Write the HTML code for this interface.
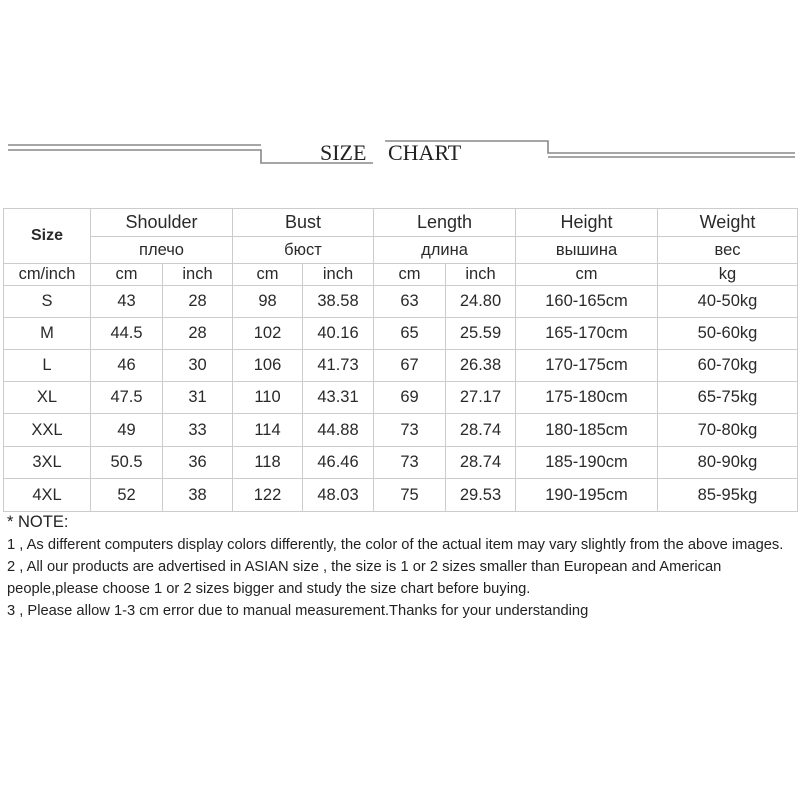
<!DOCTYPE html>
<html><head><meta charset="utf-8"><style>
body{margin:0;width:800px;height:800px;background:#fff;position:relative;overflow:hidden;font-family:"Liberation Sans","DejaVu Sans",sans-serif;color:#222}
.t{position:absolute;font-family:"Liberation Serif",serif;font-size:22px;color:#222;top:140px}
table{position:absolute;left:3px;top:208px;border-collapse:collapse;table-layout:fixed}
td{border:1px solid #ccc;text-align:center;font-size:16.5px;padding:0;white-space:nowrap;color:#2a2a2a}
.n{position:absolute;left:7px;font-size:14.7px;color:#222;white-space:nowrap}
</style></head><body>
<svg width="800" height="200" style="position:absolute;left:0;top:0" fill="none" stroke="#888" stroke-width="1.6">
<path d="M8 145H261M8 150H261V163H373"/>
<path d="M385 141H548V153H795M548 157H795"/>
</svg>
<div class="t" style="left:320px">SIZE</div>
<div class="t" style="left:388px">CHART</div>
<table>
<colgroup><col style="width:87px"><col style="width:72px"><col style="width:70px"><col style="width:70px"><col style="width:71px"><col style="width:72px"><col style="width:70px"><col style="width:142px"><col style="width:140px"></colgroup>
<tr style="height:28px"><td rowspan="2" style="font-weight:bold;font-size:16px">Size</td><td colspan="2" style="font-size:18px">Shoulder</td><td colspan="2" style="font-size:18px">Bust</td><td colspan="2" style="font-size:18px">Length</td><td style="font-size:18px">Height</td><td style="font-size:18px">Weight</td></tr>
<tr style="height:27px"><td colspan="2">плечо</td><td colspan="2">бюст</td><td colspan="2">длина</td><td>вышина</td><td>вес</td></tr>
<tr style="height:22px"><td>cm/inch</td><td>cm</td><td>inch</td><td>cm</td><td>inch</td><td>cm</td><td>inch</td><td>cm</td><td>kg</td></tr>
<tr style="height:32px"><td>S</td><td>43</td><td>28</td><td>98</td><td>38.58</td><td>63</td><td>24.80</td><td>160-165cm</td><td>40-50kg</td></tr>
<tr style="height:32px"><td>M</td><td>44.5</td><td>28</td><td>102</td><td>40.16</td><td>65</td><td>25.59</td><td>165-170cm</td><td>50-60kg</td></tr>
<tr style="height:32px"><td>L</td><td>46</td><td>30</td><td>106</td><td>41.73</td><td>67</td><td>26.38</td><td>170-175cm</td><td>60-70kg</td></tr>
<tr style="height:32px"><td>XL</td><td>47.5</td><td>31</td><td>110</td><td>43.31</td><td>69</td><td>27.17</td><td>175-180cm</td><td>65-75kg</td></tr>
<tr style="height:33px"><td>XXL</td><td>49</td><td>33</td><td>114</td><td>44.88</td><td>73</td><td>28.74</td><td>180-185cm</td><td>70-80kg</td></tr>
<tr style="height:32px"><td>3XL</td><td>50.5</td><td>36</td><td>118</td><td>46.46</td><td>73</td><td>28.74</td><td>185-190cm</td><td>80-90kg</td></tr>
<tr style="height:33px"><td>4XL</td><td>52</td><td>38</td><td>122</td><td>48.03</td><td>75</td><td>29.53</td><td>190-195cm</td><td>85-95kg</td></tr>
</table>
<div class="n" style="top:513px;font-size:16.5px">* NOTE:</div>
<div class="n" style="top:537px">1 , As different computers display colors differently, the color of the actual item may vary slightly from the above images.</div>
<div class="n" style="top:559px">2 , All our products are advertised in ASIAN size , the size is 1 or 2 sizes smaller than European and American</div>
<div class="n" style="top:581px">people,please choose 1 or 2 sizes bigger and study the size chart before buying.</div>
<div class="n" style="top:603px">3 , Please allow 1-3 cm error due to manual measurement.Thanks for your understanding</div>
</body></html>
